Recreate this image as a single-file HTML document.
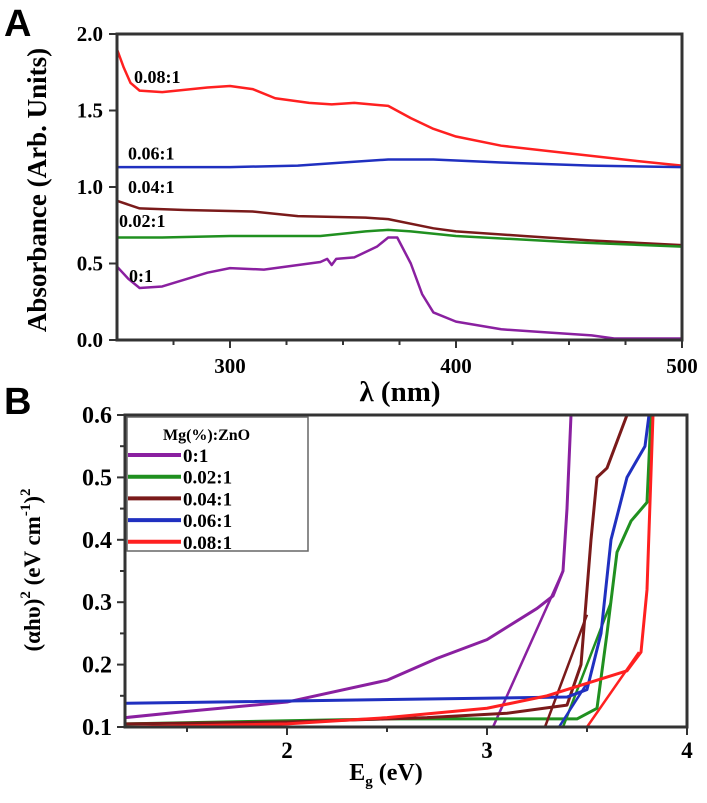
<!DOCTYPE html>
<html><head><meta charset="utf-8"><style>
body{margin:0;background:#fff}
text{font-family:"Liberation Serif","DejaVu Serif",serif;font-weight:bold}
</style></head><body>
<svg id="s" width="707" height="798">
<text x="4" y="36" font-size="38" style="font-family:'Liberation Sans',sans-serif">A</text>
<text x="4" y="414" font-size="38" style="font-family:'Liberation Sans',sans-serif">B</text>
<g id="ga"></g><g id="gb"></g>
</svg>
<script>
const NS="http://www.w3.org/2000/svg";
function mk(p,t,a){const e=document.createElementNS(NS,t);for(const k in a)e.setAttribute(k,a[k]);if(t=="text"){e.setAttribute("font-family","Liberation Serif, serif");e.setAttribute("font-weight","bold");}p.appendChild(e);return e;}
// Panel A data
const aXTicks=[300,400,500];
const aYTicks=[0.0,0.5,1.0,1.5,2.0];
const aNames=["0.08:1","0.06:1","0.04:1","0.02:1","0:1"];
const aColors=["#ff2020","#2030c0","#7a1a1a","#209020","#8a20a0"];
const aRedX=[250,253,256,260,270,290,300,310,320,335,345,355,370,380,390,400,420,450,480,500];
const aRedY=[1.9,1.78,1.68,1.63,1.62,1.65,1.66,1.64,1.58,1.55,1.54,1.55,1.53,1.45,1.38,1.33,1.27,1.22,1.17,1.14];
const aBlueX=[250,300,330,350,370,390,420,460,500];
const aBlueY=[1.13,1.13,1.14,1.16,1.18,1.18,1.16,1.14,1.13];
const aBrownX=[250,260,280,310,330,360,370,390,400,430,460,500];
const aBrownY=[0.91,0.86,0.85,0.84,0.81,0.80,0.79,0.73,0.71,0.68,0.65,0.62];
const aGreenX=[250,270,300,340,360,370,380,400,450,500];
const aGreenY=[0.67,0.67,0.68,0.68,0.71,0.72,0.71,0.68,0.64,0.61];
const aPurpX=[250,255,260,270,290,300,315,340,343,345,347,355,365,370,374,380,385,390,400,420,440,460,470,500];
const aPurpY=[0.48,0.40,0.34,0.35,0.44,0.47,0.46,0.51,0.53,0.49,0.53,0.54,0.61,0.67,0.67,0.5,0.3,0.18,0.12,0.07,0.05,0.03,0.01,0.01];
const aLabelPos=[[250,1.68],[250,1.18],[250,0.96],[250,0.74],[250,0.38]];
// Panel B data
const bXTicks=[2,3,4];
const bYTicks=[0.1,0.2,0.3,0.4,0.5,0.6];
const bNames=["0:1","0.02:1","0.04:1","0.06:1","0.08:1"];
const bColors=["#8a20a0","#209020","#7a1a1a","#2030c0","#ff2020"];
const bPurpX=[1.19,1.5,2,2.5,2.75,3.0,3.25,3.33,3.38,3.4,3.42];
const bPurpY=[0.115,0.125,0.14,0.175,0.21,0.24,0.29,0.31,0.35,0.45,0.6];
const bGreenX=[1.19,2,2.5,3.45,3.55,3.6,3.65,3.72,3.8,3.82];
const bGreenY=[0.105,0.11,0.113,0.113,0.13,0.25,0.38,0.43,0.46,0.6];
const bBrownX=[1.19,2,2.7,3.1,3.4,3.47,3.52,3.55,3.6,3.7];
const bBrownY=[0.105,0.108,0.115,0.122,0.135,0.2,0.4,0.5,0.515,0.6];
const bBlueX=[1.19,3.4,3.5,3.57,3.62,3.7,3.79,3.81];
const bBlueY=[0.138,0.148,0.16,0.25,0.4,0.5,0.55,0.6];
const bRedX=[1.19,2,2.5,3,3.3,3.5,3.7,3.77,3.8,3.83];
const bRedY=[0.1,0.105,0.115,0.13,0.15,0.17,0.19,0.22,0.32,0.6];
const bTanX=[[3.03,3.38],[3.38,3.62],[3.29,3.5],[3.36,3.5],[3.5,3.76]];
const bTanY=[[0.1,0.35],[0.1,0.3],[0.1,0.28],[0.1,0.17],[0.1,0.22]];

function panel(g,o){
  const sx=v=>o.x0+(v-o.xmin)/(o.xmax-o.xmin)*(o.x1-o.x0);
  const sy=v=>o.y0+(v-o.ymin)/(o.ymax-o.ymin)*(o.y1-o.y0);
  const cp=mk(g,"clipPath",{id:o.id+"c"});mk(cp,"rect",{x:o.x0,y:o.y1,width:o.x1-o.x0,height:o.y0-o.y1});
  const pl=mk(g,"g",{"clip-path":"url(#"+o.id+"c)"});
  return {sx,sy,pl};
}
const ga=document.getElementById("ga"),gb=document.getElementById("gb");
// ---- Panel A
const A=panel(ga,{id:"a",x0:117,x1:682,xmin:250,xmax:500,y0:340,y1:34,ymin:0,ymax:2});
const aSer=[[aRedX,aRedY],[aBlueX,aBlueY],[aBrownX,aBrownY],[aGreenX,aGreenY],[aPurpX,aPurpY]];
aSer.forEach((s,i)=>{
  const p=mk(A.pl,"polyline",{points:s[0].map((x,j)=>A.sx(x)+","+A.sy(s[1][j])).join(" "),fill:"none",stroke:aColors[i],"stroke-width":2.5,"stroke-linejoin":"round"});
  
  
  const t=mk(ga,"text",{x:A.sx(aLabelPos[i][0])+(i==4?12:i==0?17:i==3?2:11),y:A.sy(aLabelPos[i][1]),"font-size":18});
  t.textContent=aNames[i];
  
  
});
let r=mk(ga,"rect",{x:117,y:34,width:565,height:306,fill:"none",stroke:"#333","stroke-width":3});

aYTicks.forEach(v=>{const y=A.sy(v);mk(ga,"line",{x1:117,x2:109,y1:y,y2:y,stroke:"#333","stroke-width":2});
  const t=mk(ga,"text",{x:103,y:y+7,"text-anchor":"end","font-size":21});t.textContent=v.toFixed(1);
  });
[275,300,325,350,375,400,425,450,475,500].forEach(v=>{const x=A.sx(v);mk(ga,"line",{x1:x,x2:x,y1:340,y2:v%100==0?348:345,stroke:"#333","stroke-width":2});});
aXTicks.forEach(v=>{const t=mk(ga,"text",{x:A.sx(v),y:373,"text-anchor":"middle","font-size":21});t.textContent=v;
  });
let t=mk(ga,"text",{x:400,y:401,"text-anchor":"middle","font-size":29});t.textContent="λ (nm)";

t=mk(ga,"text",{transform:"translate(46,190) rotate(-90)","text-anchor":"middle","font-size":27});t.textContent="Absorbance (Arb. Units)";

// ---- Panel B
const B=panel(gb,{id:"b",x0:125,x1:687,xmin:1.19,xmax:4,y0:727,y1:415,ymin:0.1,ymax:0.6});
const bSer=[[bPurpX,bPurpY],[bGreenX,bGreenY],[bBrownX,bBrownY],[bBlueX,bBlueY],[bRedX,bRedY]];
bSer.forEach((s,i)=>{
  const p=mk(B.pl,"polyline",{points:s[0].map((x,j)=>B.sx(x)+","+B.sy(s[1][j])).join(" "),fill:"none",stroke:bColors[i],"stroke-width":3,"stroke-linejoin":"round"});
  
  
  const l=mk(B.pl,"line",{x1:B.sx(bTanX[i][0]),y1:B.sy(bTanY[i][0]),x2:B.sx(bTanX[i][1]),y2:B.sy(bTanY[i][1]),stroke:bColors[i],"stroke-width":2.5});
  
  
});
r=mk(gb,"rect",{x:125,y:415,width:562,height:312,fill:"none",stroke:"#333","stroke-width":3});

bYTicks.forEach(v=>{const y=B.sy(v);mk(gb,"line",{x1:125,x2:117,y1:y,y2:y,stroke:"#333","stroke-width":2});
  const t=mk(gb,"text",{x:112,y:y+8,"text-anchor":"end","font-size":24});t.textContent=v.toFixed(1);
  });
[0.15,0.25,0.35,0.45,0.55].forEach(v=>{const y=B.sy(v);mk(gb,"line",{x1:125,x2:120,y1:y,y2:y,stroke:"#333","stroke-width":2});});
[1.5,2,2.5,3,3.5,4].forEach(v=>{const x=B.sx(v);mk(gb,"line",{x1:x,x2:x,y1:727,y2:v%1==0?735:732,stroke:"#333","stroke-width":2});});
bXTicks.forEach(v=>{const t=mk(gb,"text",{x:B.sx(v),y:758,"text-anchor":"middle","font-size":23});t.textContent=v;
  });
t=mk(gb,"text",{x:386,y:780,"text-anchor":"middle","font-size":24});t.innerHTML='E<tspan font-size="15" dy="6">g</tspan><tspan dy="-6"> (eV)</tspan>';

t=mk(gb,"text",{transform:"translate(40,570) rotate(-90)","text-anchor":"middle","font-size":23});
t.innerHTML='(αhυ)<tspan font-size="15" dy="-10">2</tspan><tspan dy="10"> (eV cm</tspan><tspan font-size="15" dy="-10">-1</tspan><tspan dy="10">)</tspan><tspan font-size="15" dy="-10">2</tspan>';

// legend
const lg=mk(gb,"g",{});

mk(lg,"rect",{x:127,y:417,width:181,height:134,fill:"#fff",stroke:"#666","stroke-width":1.5});
t=mk(lg,"text",{x:163,y:440,"font-size":16});t.textContent="Mg(%):ZnO";

bNames.forEach((n,i)=>{const y=455+i*21.7;
  mk(lg,"line",{x1:128,x2:181,y1:y,y2:y,stroke:bColors[i],"stroke-width":4});
  const tt=mk(lg,"text",{x:183,y:y+7,"font-size":19});tt.textContent=n;
  });
</script>
</body></html>
